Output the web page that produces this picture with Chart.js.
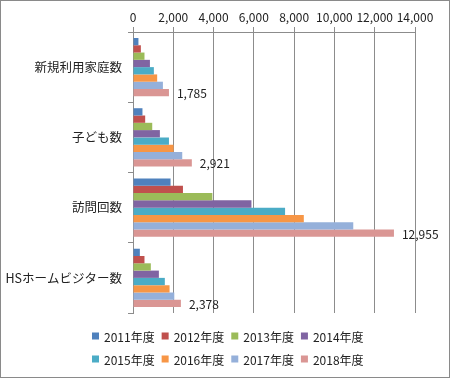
<!DOCTYPE html>
<html>
<head>
<meta charset="utf-8">
<script src="https://cdn.jsdelivr.net/npm/chart.js@4.4.1/dist/chart.umd.min.js"></script>
<style>
    html, body { margin: 0; padding: 0; background: #fff; }
    #wrap { width: 450px; height: 379px; position: relative; }
</style>
</head>
<body>
<div id="wrap"><canvas id="chartCanvas" width="450" height="379"></canvas></div>
<script>
// categories and series
const categories = ['新規利用家庭数', '子ども数', '訪問回数', 'HSホームビジター数'];
const years = ['2011年度', '2012年度', '2013年度', '2014年度', '2015年度', '2016年度', '2017年度', '2018年度'];

const v2011 = [270, 470, 1865, 340];
const v2012 = [390, 605, 2480, 570];
const v2013 = [570, 955, 3940, 885];
const v2014 = [840, 1335, 5880, 1285];
const v2015 = [1035, 1785, 7550, 1580];
const v2016 = [1200, 2015, 8480, 1815];
const v2017 = [1485, 2445, 10935, 2050];
const v2018 = [1785, 2921, 12955, 2378];

const xTicks = [0, 2000, 4000, 6000, 8000, 10000, 12000, 14000];

const colors = ['#4F81BD', '#C0504D', '#9BBB59', '#8064A2', '#4BACC6', '#F79646', '#95B0DA', '#DA9694'];
const seriesValues = [v2011, v2012, v2013, v2014, v2015, v2016, v2017, v2018];

const FONT = "'Noto Sans CJK JP', 'Noto Sans', sans-serif";

// labels on the last series only
const lastLabels = {
    id: 'lastLabels',
    afterDatasetsDraw(chart) {
        const ctx = chart.ctx;
        const idx = chart.data.datasets.length - 1;
        const meta = chart.getDatasetMeta(idx);
        ctx.save();
        ctx.font = '12px ' + FONT;
        ctx.fillStyle = '#222';
        ctx.textBaseline = 'middle';
        ctx.textAlign = 'left';
        meta.data.forEach((bar, i) => {
            const val = chart.data.datasets[idx].data[i];
            ctx.fillText(val.toLocaleString('en-US'), bar.x + 8, bar.y + 1);
        });
        ctx.restore();
    }
};

// legend, 4 items per row like the original
const rowLegend = {
    id: 'rowLegend',
    afterDraw(chart) {
        const ctx = chart.ctx;
        const sets = chart.data.datasets;
        const perRow = 4;
        const rowY = [336, 359];
        const box = 7, gapBox = 5, gapItem = 7;
        ctx.save();
        ctx.font = '12px ' + FONT;
        ctx.textBaseline = 'middle';
        ctx.textAlign = 'left';
        for (let r = 0; r * perRow < sets.length; r++) {
            const items = sets.slice(r * perRow, r * perRow + perRow);
            const widths = items.map(d => box + gapBox + ctx.measureText(d.label).width);
            const total = widths.reduce((a, b) => a + b, 0) + gapItem * (items.length - 1);
            let x = Math.round((chart.width - total) / 2) + 3;
            items.forEach((d, i) => {
                ctx.fillStyle = d.backgroundColor;
                ctx.fillRect(x, rowY[r] - box / 2, box, box);
                ctx.fillStyle = '#222';
                ctx.fillText(d.label, x + box + gapBox, rowY[r] + 1);
                x += widths[i] + gapItem;
            });
        }
        ctx.restore();
    }
};

// outer frame
const frame = {
    id: 'frame',
    afterDraw(chart) {
        const ctx = chart.ctx;
        ctx.save();
        ctx.strokeStyle = '#8a8a8a';
        ctx.lineWidth = 1;
        ctx.strokeRect(0.5, 0.5, chart.width - 1, chart.height - 2);
        ctx.restore();
    }
};

new Chart(document.getElementById('chartCanvas'), {
    type: 'bar',
    data: {
        labels: categories,
        datasets: years.map((y, i) => ({
            label: y,
            data: seriesValues[i],
            backgroundColor: colors[i],
            borderWidth: 0,
            categoryPercentage: 0.83,
            barPercentage: 1.0
        }))
    },
    options: {
        indexAxis: 'y',
        responsive: false,
        animation: false,
        layout: { padding: { top: 8, left: 0, right: 35, bottom: 66 } },
        plugins: {
            legend: { display: false },
            tooltip: { enabled: false }
        },
        scales: {
            x: {
                position: 'top',
                min: 0,
                max: 14000,
                afterBuildTicks: function(scale) {
                    scale.ticks = xTicks.map(v => ({ value: v }));
                },
                ticks: {
                    font: { family: FONT, size: 12 },
                    color: '#222',
                    padding: 2,
                    maxRotation: 0,
                    callback: function(value) {
                        return value.toLocaleString('en-US');
                    }
                },
                grid: { color: '#8c8c8c', tickLength: 5 },
                border: { color: '#8c8c8c' },
                afterFit: function(scale) { scale.height = 24; }
            },
            y: {
                ticks: {
                    font: { family: FONT, size: 12.5 },
                    color: '#222',
                    padding: 6
                },
                grid: { drawOnChartArea: false, tickLength: 5, color: '#8c8c8c', offset: true },
                border: { color: '#8c8c8c' },
                afterFit: function(scale) { scale.width = 133; }
            }
        }
    },
    plugins: [lastLabels, rowLegend, frame]
});
</script>
</body>
</html>
